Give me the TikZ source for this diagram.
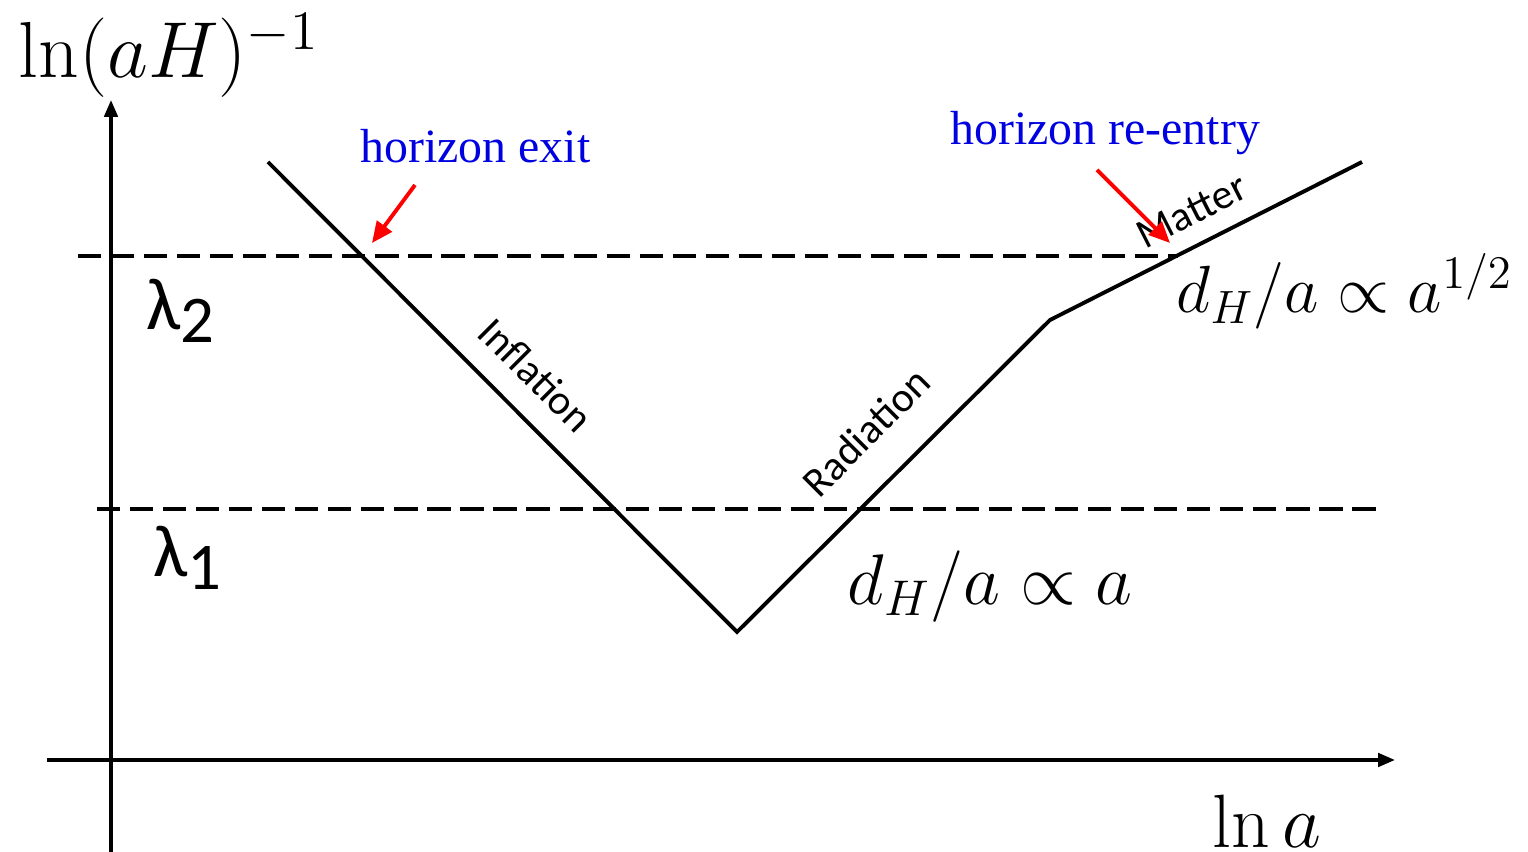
\RequirePackage{fix-cm}
\documentclass[tikz,border=0pt]{standalone}
\usepackage{amsmath}
\usepackage{fontspec}
\newfontfamily\calibrifont{Carlito}
\newfontfamily\timesfont{Liberation Serif}
\usepackage{tikz}
\usetikzlibrary{arrows.meta, positioning, calc}
\definecolor{noteblue}{RGB}{0,0,225}

\begin{document}
\begin{tikzpicture}[x=0.1mm, y=-0.1mm, >=Triangle]
  % --- STYLE DEFINITIONS ---
  \tikzstyle{axis}=[line width=1pt, -{Triangle[length=4.8pt, width=3.8pt]}]
  \tikzstyle{horizon}=[line width=0.95pt, dash pattern=on 6.6pt off 2.8pt]
  \tikzstyle{hubble}=[line width=1.1pt, line join=miter]
  \tikzstyle{phase}=[font=\calibrifont\fontsize{11.9}{14}\selectfont, inner sep=0pt]
  \tikzstyle{marker}=[red, line width=1.1pt, -{Triangle[length=6pt, width=5.2pt]}]
  \tikzstyle{note}=[noteblue, font=\timesfont\fontsize{13.6}{16}\selectfont, inner sep=0pt, anchor=base west]
  \tikzstyle{mathlabel}=[font=\fontsize{19}{22}\selectfont, inner sep=0pt, anchor=base west]
  \tikzstyle{axislabel}=[font=\fontsize{21.5}{25}\selectfont, inner sep=0pt, anchor=base west]
  \tikzstyle{wavelength}=[font=\calibrifont\fontsize{21}{24}\selectfont, inner sep=0pt, anchor=base west]

  \useasboundingbox (0,0) rectangle (1528,852);

  % =================================================================
  % AXES
  % =================================================================
  \coordinate (ybot) at (111,852);
  \coordinate (ytop) at (111,100);
  \coordinate (xleft) at (47,760);
  \coordinate (xright) at (1395,760);
  \draw[axis] (ybot) -- (ytop);
  \draw[axis] (xleft) -- (xright);
  \node[axislabel, font=\fontsize{22.6}{26}\selectfont] (ylabel) at (18,78) {$\ln(aH)^{-1}$};
  \node[axislabel] (xlabel) at (1212,848) {$\ln a$};

  % =================================================================
  % TWO SCALES
  % =================================================================
  \coordinate (L2a) at (78,256);
  \coordinate (L2b) at (1178,256);
  \coordinate (L1a) at (97,509);
  \coordinate (L1b) at (1380,509);
  \draw[horizon] (L2a) -- (L2b);
  \draw[horizon] (L1a) -- (L1b);
  \node[wavelength] (lam2) at (146,330) {λ\raisebox{-3.6pt}{\fontsize{19}{21}\selectfont 2}};
  \node[wavelength] (lam1) at (153,577) {λ\raisebox{-3.6pt}{\fontsize{19}{21}\selectfont 1}};

  % =================================================================
  % COMOVING HUBBLE RADIUS
  % =================================================================
  \coordinate (start) at (268,162);
  \coordinate (bottom) at (737,632);
  \coordinate (knee) at (1050,320);
  \coordinate (end) at (1362,162);
  \draw[hubble] (start) -- (bottom) -- (knee) -- (end);

  \node[phase, rotate=-45] (infl) at (536,375) {Inflation};
  \node[phase, rotate=45] (rad) at (866,432) {Radiation};
  \node[phase, rotate=26.9] (mat) at (1192,211) {Matter};

  \node[mathlabel, font=\fontsize{20.4}{24}\selectfont] (radlaw) at (847,605) {$d_H/a \propto a$};
  \node[mathlabel] (matlaw) at (1176,313) {$d_H/a \propto a^{1/2}$};

  % =================================================================
  % EXIT AND RE-ENTRY
  % =================================================================
  \node[note] (exit) at (360,163) {horizon exit};
  \node[note] (reentry) at (950,145) {horizon re-entry};
  \coordinate (exittail) at (415,185);
  \coordinate (exithead) at (372,243);
  \coordinate (retail) at (1097,170);
  \coordinate (rehead) at (1170,243);
  \draw[marker] (exittail) -- (exithead);
  \draw[marker] (retail) -- (rehead);

\end{tikzpicture}
\end{document}
